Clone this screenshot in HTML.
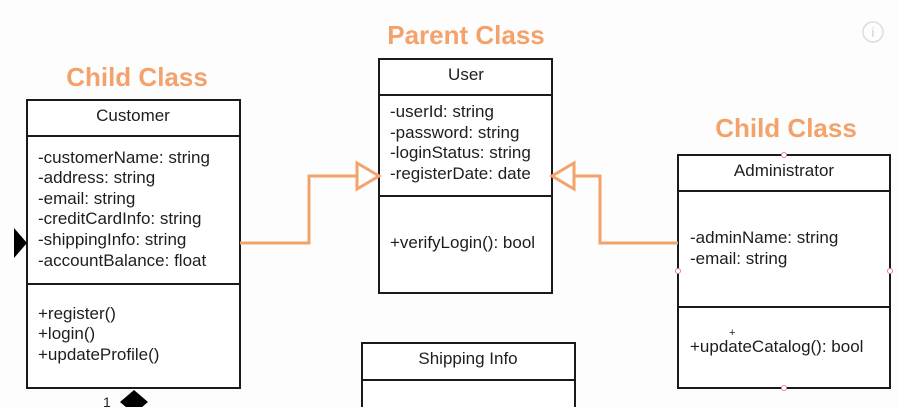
<!DOCTYPE html>
<html><head><meta charset="utf-8"><style>
html,body{margin:0;padding:0;background:#fdfdfd;}
svg{display:block;font-family:"Liberation Sans",Arial,sans-serif;}
.t{font-size:17px;fill:#1e1e1e;}
.h{font-size:26px;font-weight:bold;fill:#F4A26B;}
</style></head><body>
<svg width="898" height="407" viewBox="0 0 898 407">
<rect width="898" height="407" fill="#fdfdfd"/>
<text class="h" x="466" y="44" text-anchor="middle">Parent Class</text>
<text class="h" x="137" y="86" text-anchor="middle">Child Class</text>
<text class="h" x="786" y="137" text-anchor="middle">Child Class</text>
<circle cx="873" cy="32" r="10" fill="none" stroke="#ddd" stroke-width="1.5"/>
<text x="873" y="37" font-size="13" fill="#ccc" text-anchor="middle">i</text>

<g fill="#fff" stroke="#1a1a1a" stroke-width="2">
<rect x="27" y="100" width="213" height="288"/>
<line x1="27" y1="136" x2="240" y2="136"/>
<line x1="27" y1="284" x2="240" y2="284"/>
<rect x="379" y="59" width="173" height="234"/>
<line x1="379" y1="95" x2="552" y2="95"/>
<line x1="379" y1="196" x2="552" y2="196"/>
<rect x="678" y="155" width="212" height="233"/>
<line x1="678" y1="191" x2="890" y2="191"/>
<line x1="678" y1="307" x2="890" y2="307"/>
<rect x="362" y="343" width="213" height="80"/>
<line x1="362" y1="380" x2="575" y2="380"/>
</g>

<g class="t">
<text x="133" y="121" text-anchor="middle">Customer</text>
<text x="38" y="163">-customerName: string</text>
<text x="38" y="183">-address: string</text>
<text x="38" y="204">-email: string</text>
<text x="38" y="224">-creditCardInfo: string</text>
<text x="38" y="245">-shippingInfo: string</text>
<text x="38" y="266">-accountBalance: float</text>
<text x="38" y="319">+register()</text>
<text x="38" y="339">+login()</text>
<text x="38" y="360">+updateProfile()</text>

<text x="466" y="80" text-anchor="middle">User</text>
<text x="390" y="117">-userId: string</text>
<text x="390" y="138">-password: string</text>
<text x="390" y="158">-loginStatus: string</text>
<text x="390" y="179">-registerDate: date</text>
<text x="390" y="248">+verifyLogin(): bool</text>

<text x="784" y="176" text-anchor="middle">Administrator</text>
<text x="690" y="243">-adminName: string</text>
<text x="690" y="264">-email: string</text>
<text x="729" y="336" font-size="11">+</text>
<text x="690" y="352">+updateCatalog(): bool</text>

<text x="468" y="364" text-anchor="middle">Shipping Info</text>
</g>

<g fill="none" stroke="#F4A26B" stroke-width="3">
<polyline points="240,243 309,243 309,176 357,176"/>
<polygon points="357,163 379,176 357,189" fill="#fff"/>
<polyline points="678,243 600,243 600,176 574,176"/>
<polygon points="574,163 552,176 574,189" fill="#fff"/>
</g>

<polygon points="14,228 27,243 14,258" fill="#000"/>
<polygon points="134,390 148,402 134,414 120,402" fill="#000"/>
<text x="103" y="407" font-size="14" fill="#222">1</text>

<g fill="#fff" stroke="#d88" stroke-width="1">
<circle cx="784" cy="155" r="2.5"/><circle cx="784" cy="388" r="2.5"/>
<circle cx="678" cy="271" r="2.5"/><circle cx="890" cy="271" r="2.5"/>
</g>
</svg>
</body></html>
